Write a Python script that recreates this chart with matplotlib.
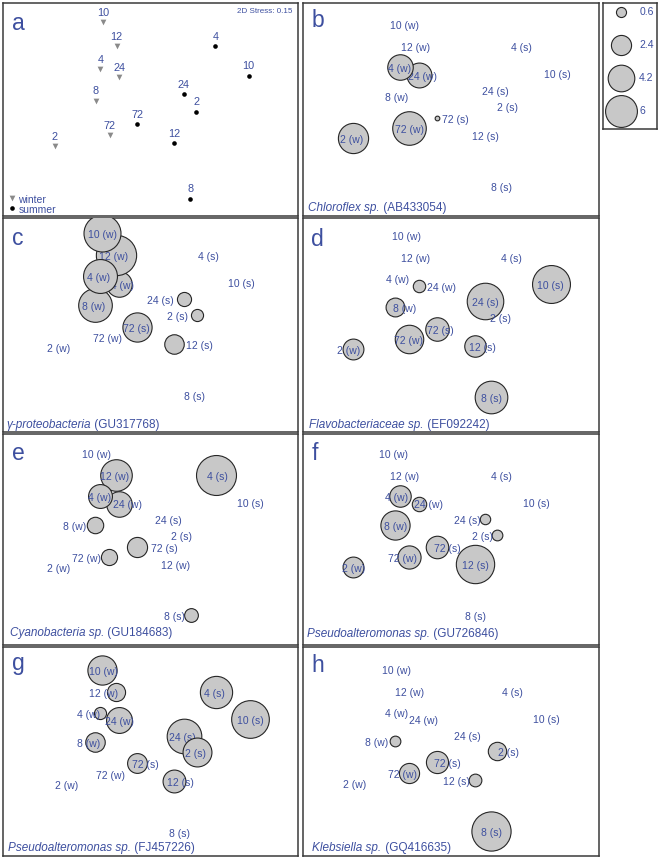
"""
NMDS of winter / summer samples (panel a) with bubble overlays of
relative abundance for seven taxa (panels b-h).
"""

import numpy as np
import matplotlib.pyplot as plt

plt.rcParams['font.family'] = ['Liberation Sans', 'DejaVu Sans']

# --- Data ---
sample_time = ["10", "12", "4", "24", "8", "72", "2",
               "10", "12", "4", "24", "8", "72", "2"]
season = ["w"] * 7 + ["s"] * 7
# NMDS coordinates (order as sample_time / season)
nmds1 = [-0.485, -0.345, -0.51, -0.32, -0.56, -0.415, -0.975,
         1.00, 0.24, 0.66, 0.34, 0.405, -0.135, 0.465]
nmds2 = [0.87, 0.65, 0.44, 0.365, 0.15, -0.17, -0.27,
         0.38, -0.24, 0.65, 0.21, -0.75, -0.065, 0.05]
stress = 0.15

# relative abundance per sample (0 = no bubble)
#            10w  12w  4w   24w  8w   72w  2w   10s  12s  4s   24s  8s   72s  2s
abund_b = [0,   0,   3.85, 3.66, 0,   6.67, 5.4, 0,   0,   0,   0,   0,   0.13, 0]
abund_c = [8.1, 9.6, 6.8, 3.85, 6.7, 0,   0,   0,   2.25, 0,   1.18, 0,   5.05, 0.87]
abund_d = [0,   0,   0,   0.91, 2.1, 4.8, 2.57, 8.5, 2.73, 0,  7.9, 6.3, 3.27, 0]
abund_e = [0,   5.9, 3.37, 3.85, 1.6, 1.54, 0,  0,   0,   9.45, 0,  1.12, 2.4, 0]
abund_f = [0,   0,   2.73, 1.23, 5.05, 3.18, 2.57, 0, 8.7, 0,   0.64, 0,  3.0, 0.68]
abund_g = [5.05, 1.95, 0.87, 3.96, 2.25, 0,  0,   8.4, 3.09, 6.15, 7.1, 0, 2.32, 4.94]
abund_h = [0,   0,   0,   0,   0.68, 2.4, 0,   0,   0.96, 0,   0,   9.1, 2.9, 2.0]

taxa_italic = ["Chloroflex sp.", "\u03b3-proteobacteria", "Flavobacteriaceae sp.",
               "Cyanobacteria sp.", "Pseudoalteromonas sp.", "Pseudoalteromonas sp.",
               "Klebsiella sp."]
taxa_acc = ["(AB433054)", "(GU317768)", "(EF092242)", "(GU184683)",
            "(GU726846)", "(FJ457226)", "(GQ416635)"]
legend_vals = [0.6, 2.4, 4.2, 6]

labels = [f"{t} ({s})" for t, s in zip(sample_time, season)]
labels_e = list(labels)
labels_e[8] = "12 (w)"   # as printed in the original panel e

# --- Layout (pixels) ---
W, H = 660, 859
BLUE = "#3d4f9f"
FRAME = "#3a3a3a"
FILL = "#c8c8c8"
col_x = [3.3, 302.5]
col_w = [294.5, 296.5]
rows = [(3.3, 216.0), (218.3, 431.7), (434.0, 644.5), (647.3, 856.0)]
panel_shift = {"b": -1.8, "c": 4, "d": 2, "e": 0, "f": 0, "g": -3.5, "h": -2.5}
# horizontal label offsets (px), same sample order as the data
label_dx = {
    "b": [2, -1, 0, 4, 2, 0, -1, 6, 11, 5, 11, 10, 18, 10],
    "c": [0, -3, -1, 1, -1, -2, 5, -9, 25, -8, -24, 4, -1, -19],
    "d": [4, -1, -2, 23, 10, -1, -4, -1, 8, -5, 1, 0, 3, 3],
    "e": [-6, -2, 0, 9, -20, -23, 5, 0, 1, 1, -16, -16, 27, -15],
    "f": [-9, -12, -3, 10, 1, -7, 1, -15, 1, -15, -17, -16, 10, -15],
    "g": [1, -13, -11, 1, -6, 1, 13, 0, 6, -2, -2, -11, 8, -1],
    "h": [-6, -7, -3, 5, -18, -7, 2, -5, -18, -4, -17, 0, 10, 11],
}
name_pos = {"b": (5.5, 4.5), "c": (3, 3.4), "d": (6.8, 3.4), "e": (6.7, 8.5),
            "f": (4.2, 7.2), "g": (5, 5.3), "h": (10, 5.3)}
letter_base = {"a": 26.7, "b": 24, "c": 26.7, "d": 28, "e": 26, "f": 25.8,
               "g": 22.5, "h": 24.4}

fig = plt.figure(figsize=(W / 100, H / 100), dpi=100)


def add_panel(col, row):
    top, bot = rows[row]
    ax = fig.add_axes([col_x[col] / W, 1 - bot / H, col_w[col] / W, (bot - top) / H])
    ax.set_xticks([])
    ax.set_yticks([])
    for sp in ax.spines.values():
        sp.set_color(FRAME)
        sp.set_linewidth(1.1)
    return ax, bot - top


def bubble_size(v):
    # diameter ~13 px * sqrt(value); scatter size in points^2
    return (13 * np.sqrt(v) * 0.72) ** 2


def letter(ax, ch):
    ax.annotate(ch, (0, 1), xycoords="axes fraction", xytext=(9, -letter_base[ch]),
                textcoords="offset pixels", ha="left", va="baseline",
                fontsize=16.5, color=BLUE)


# --- panel a: ordination ---
ax, h = add_panel(0, 0)
ax.set_xlim(-1.5, 1.5)
ax.set_ylim(-0.91, 1.044)
x = np.array(nmds1)
y = np.array(nmds2)
win = np.array(season) == "w"
ax.scatter(x[win], y[win], marker="v", s=17, color="#8a8a8a", linewidths=0)
ax.scatter(x[~win], y[~win], marker="o", s=11, color="black", linewidths=0)
for xi, yi, t in zip(x, y, sample_time):
    ax.annotate(t, (xi, yi), xytext=(0, 9.5), textcoords="offset pixels",
                ha="center", va="center", fontsize=7.8, color=BLUE)
letter(ax, "a")
ax.annotate(f"2D Stress: {stress}", (1, 1), xycoords="axes fraction",
            xytext=(-5.5, -8.4), textcoords="offset pixels", ha="right",
            va="center", fontsize=5.8, color=BLUE)
ax.scatter([0.031], [0.083], marker="v", s=17, color="#8a8a8a", linewidths=0,
           transform=ax.transAxes)
ax.scatter([0.031], [0.036], marker="o", s=11, color="black", linewidths=0,
           transform=ax.transAxes)
ax.text(0.051, 0.076, "winter", transform=ax.transAxes, ha="left", va="center",
        fontsize=7.5, color=BLUE)
ax.text(0.051, 0.029, "summer", transform=ax.transAxes, ha="left", va="center",
        fontsize=7.5, color=BLUE)

# --- panels b-h: bubbles ---
abund = [abund_b, abund_c, abund_d, abund_e, abund_f, abund_g, abund_h]
letters = "bcdefgh"
# draw order: later time points first, early ones on top (as in the original)
order = sorted(range(len(sample_time)), key=lambda i: -int(sample_time[i]))

for k, ch in enumerate(letters):
    col, row = (k + 1) % 2, (k + 1) // 2
    ax, h = add_panel(col, row)
    ax.set_xlim(-1.48, 1.48)
    ytop = 1.06 - panel_shift[ch] / 100
    ax.set_ylim(ytop - h / 100, ytop)
    labs = labels_e if ch == "e" else labels
    for z, i in enumerate(order):
        v = abund[k][i]
        if v > 0:
            ax.scatter([nmds1[i]], [nmds2[i]], s=bubble_size(v), facecolor=FILL,
                       edgecolor="#262626", linewidths=0.8, zorder=2 + z * 0.1)
        ax.annotate(labs[i], (nmds1[i], nmds2[i]), xytext=(label_dx[ch][i], -2),
                    textcoords="offset pixels", ha="center", va="center",
                    fontsize=7.5, color=BLUE, zorder=2.05 + z * 0.1)
    letter(ax, ch)
    nx, ny = name_pos[ch]
    t1 = ax.annotate(taxa_italic[k], (0, 0), xycoords="axes fraction",
                     xytext=(nx, ny), textcoords="offset pixels", ha="left",
                     va="baseline", fontsize=8.5, style="italic", color=BLUE)
    ax.annotate(" " + taxa_acc[k], (1, 0), xycoords=t1, ha="left", va="bottom",
                fontsize=8.5, color=BLUE)

# --- bubble legend ---
lax = fig.add_axes([603 / W, 1 - 129 / H, 54 / W, 125.7 / H])
lax.set_xticks([])
lax.set_yticks([])
for sp in lax.spines.values():
    sp.set_color(FRAME)
    sp.set_linewidth(1.1)
lax.set_xlim(0, 1)
lax.set_ylim(0, 1)
ly = np.linspace(0.93, 0.14, len(legend_vals))
for yy, v in zip(ly, legend_vals):
    lax.scatter([0.33], [yy], s=bubble_size(v), facecolor=FILL,
                edgecolor="#262626", linewidths=0.8)
    lax.text(0.67, yy, f"{v:g}", ha="left", va="center", fontsize=7.5, color=BLUE)

fig.savefig("out.png", dpi=100)
